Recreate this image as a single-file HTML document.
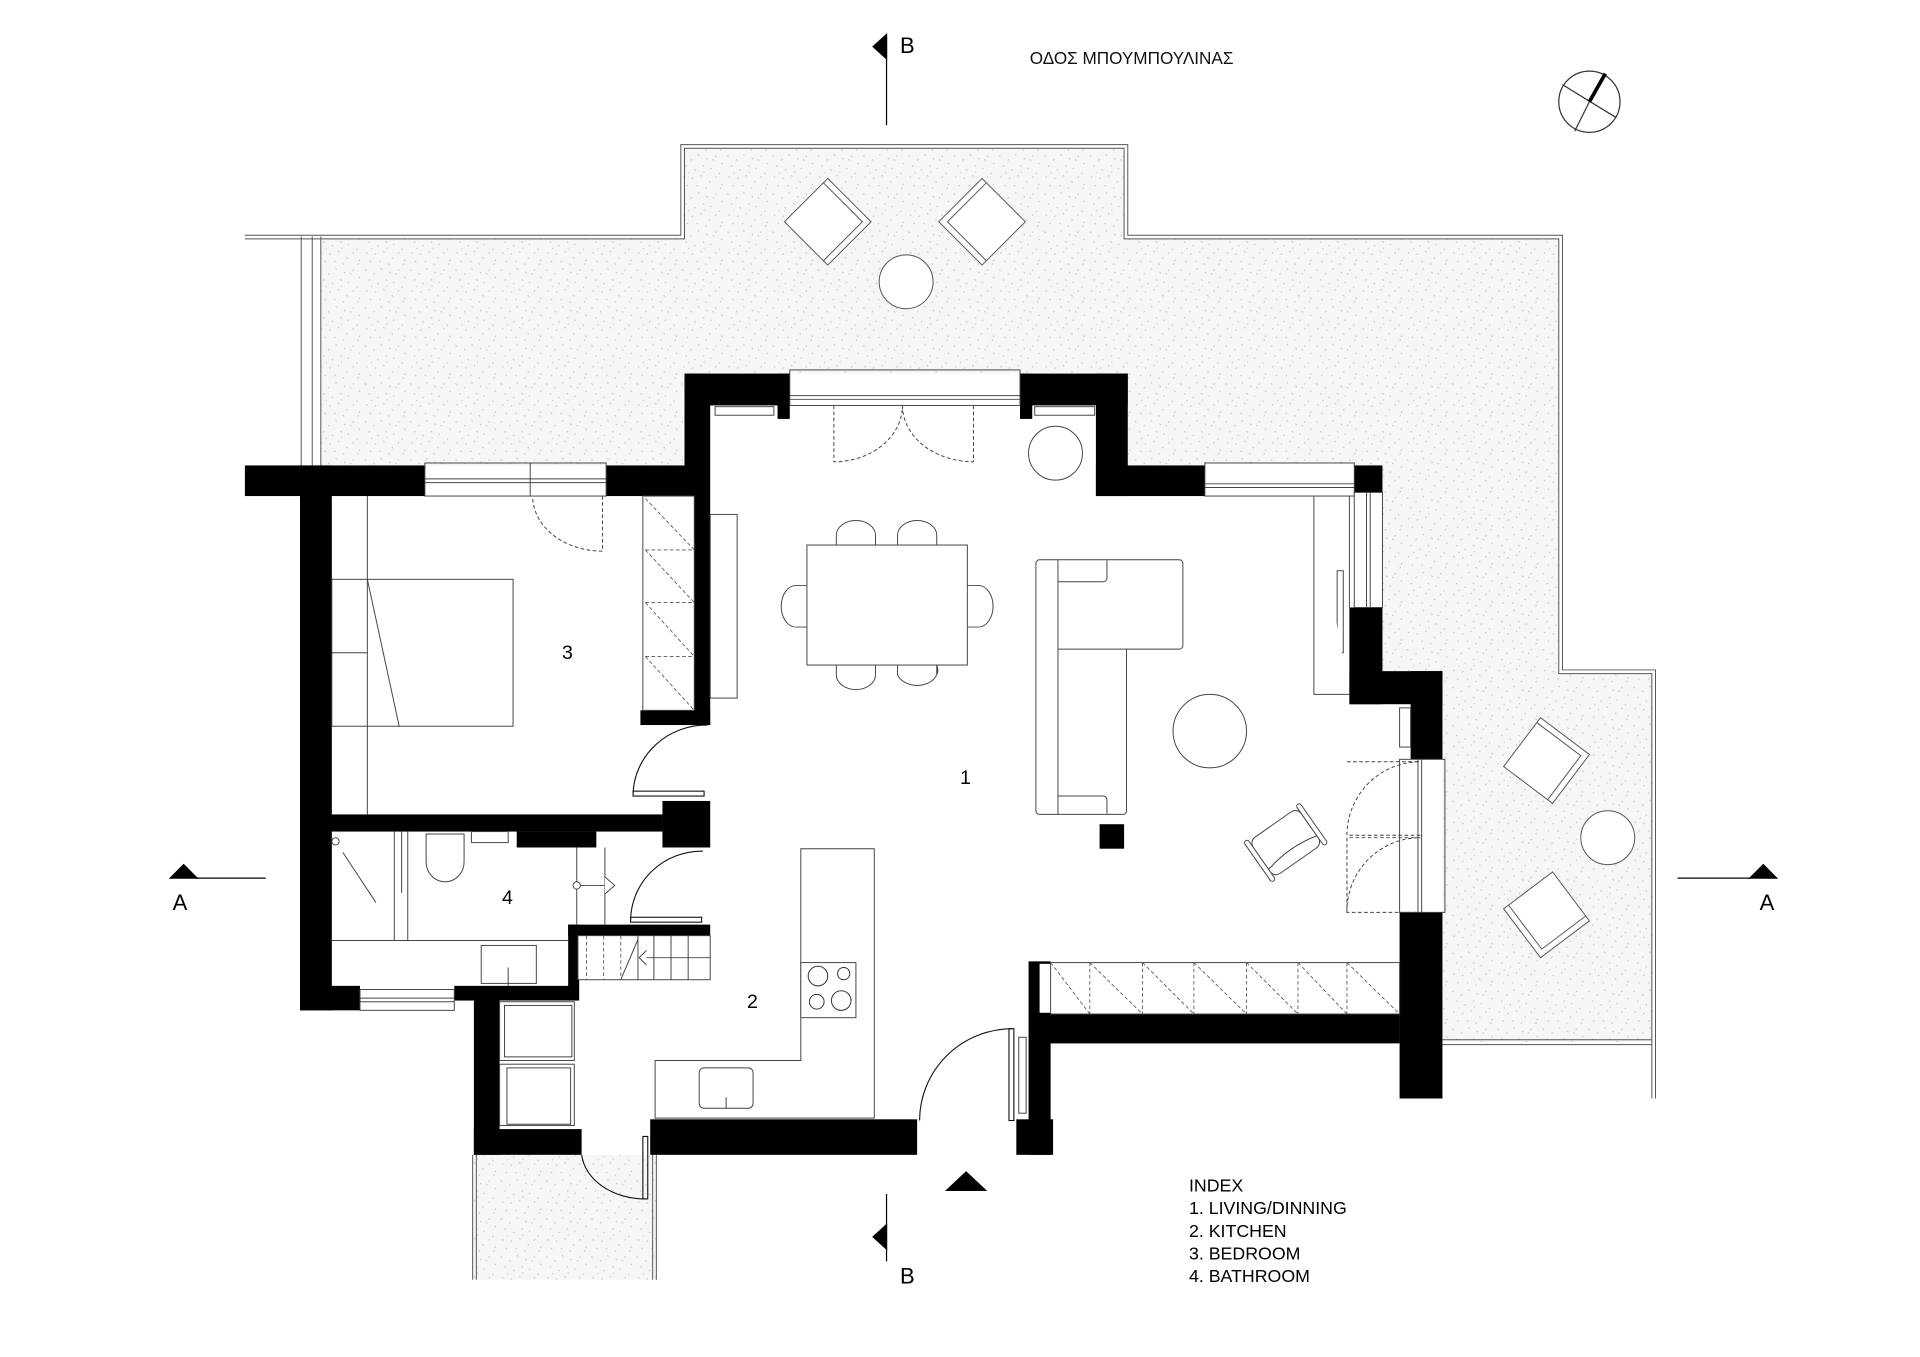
<!DOCTYPE html>
<html><head><meta charset="utf-8"><style>html,body{margin:0;padding:0;background:#fff}svg{display:block}</style></head>
<body>
<svg width="1920" height="1357" viewBox="0 0 1568 1108" xmlns="http://www.w3.org/2000/svg" font-family="Liberation Sans, Arial, sans-serif">
<defs>
<pattern id="sp" width="37" height="31" patternUnits="userSpaceOnUse">
<rect width="37" height="31" fill="#f6f6f6"/>
<g stroke="#c4c4c4" stroke-width="0.8">
<path d="M2 3l1 1M9 7l1-1M15 2l1 1M22 5l1 1M30 3l-1 1M34 9l1 1M5 12l1-1M12 14l1 1M19 11l1 1M26 13l-1 1M32 17l1 1M3 20l1 1M10 22l1-1M17 19l1 1M24 24l1 1M29 21l1-1M6 27l1 1M14 28l1-1M21 29l1 1M35 26l-1 1M27 6l1 1M7 17l1 0M20 16l0 1M33 30l1-1"/>
</g>
</pattern>
</defs>
<rect width="1568" height="1108" fill="#fff"/>

<!-- terrace fill -->
<polygon points="262,195 558,195 558,121 918,121 918,195 1273,195 1273,550 1350,550 1350,851 1178,851 1178,548 1128,548 1128,380 262,380" fill="url(#sp)"/>
<rect x="386" y="943" width="150" height="102" fill="url(#sp)"/>
<!-- building interior white -->
<polygon points="200,380 558,380 558,305 918,305 918,380 1128,380 1128,548 1178,548 1178,900 200,900" fill="#fff"/>
<rect x="1129" y="380" width="49" height="168" fill="url(#sp)"/>

<!-- terrace outlines -->
<g fill="none" stroke="#555" stroke-width="0.8">
<polyline points="200,192 556,192 556,118 921,118 921,192 1276,192 1276,547 1352,547 1352,897"/>
<polyline points="200,195 559,195 559,121 918,121 918,195 1273,195 1273,550 1349,550 1349,897"/>
<line x1="1178" y1="849" x2="1349" y2="849"/><line x1="1178" y1="853" x2="1349" y2="853"/>
<line x1="246" y1="193" x2="246" y2="380"/><line x1="255" y1="193" x2="255" y2="380"/><line x1="262" y1="193" x2="262" y2="380"/>
<line x1="386" y1="943" x2="386" y2="1045"/><line x1="389" y1="943" x2="389" y2="1045"/>
<line x1="533" y1="943" x2="533" y2="1045"/><line x1="536" y1="943" x2="536" y2="1045"/>
</g>

<!-- walls -->
<g fill="#000">
<rect x="200" y="380" width="147" height="25"/>
<rect x="245" y="380" width="26" height="445"/>
<rect x="495" y="380" width="64" height="25"/>
<rect x="559" y="305" width="21" height="287"/>
<rect x="559" y="305" width="86" height="26"/>
<rect x="635" y="305" width="10" height="37"/>
<rect x="523" y="580" width="57" height="12"/>
<rect x="833" y="305" width="88" height="26"/>
<rect x="833" y="305" width="10" height="37"/>
<rect x="895" y="305" width="26" height="100"/>
<rect x="895" y="380" width="89" height="25"/>
<rect x="1106" y="380" width="23" height="22"/>
<rect x="1102" y="496" width="27" height="79"/>
<rect x="1102" y="548" width="76" height="27"/>
<rect x="1152" y="548" width="26" height="72"/>
<rect x="1143" y="745" width="35" height="152"/>
<rect x="245" y="665" width="296" height="14"/>
<rect x="541" y="654" width="39" height="38"/>
<rect x="422" y="679" width="65" height="13"/>
<rect x="245" y="805" width="49" height="20"/>
<rect x="371" y="805" width="101" height="12"/>
<rect x="464" y="755" width="116" height="9"/>
<rect x="464" y="755" width="9" height="62"/>
<rect x="387" y="806" width="21" height="137"/>
<rect x="387" y="922" width="88" height="21"/>
<rect x="531" y="914" width="218" height="29"/>
<rect x="840" y="785" width="18" height="158"/>
<rect x="830" y="914" width="30" height="29"/>
<rect x="850" y="828" width="293" height="24"/>
<rect x="898" y="673" width="20" height="20"/>
</g>
<g fill="#fff"><rect x="849" y="787" width="10" height="40"/></g>

<!-- windows -->
<g fill="none" stroke="#444" stroke-width="0.8">
<rect x="347" y="378" width="148" height="27"/><line x1="347" y1="391" x2="495" y2="391"/><line x1="347" y1="394" x2="495" y2="394"/><line x1="433" y1="378" x2="433" y2="405"/>
<rect x="645" y="302" width="188" height="29"/><line x1="645" y1="323" x2="833" y2="323"/><line x1="645" y1="326" x2="833" y2="326"/>
<rect x="984" y="378" width="122" height="27" fill="#fff"/><line x1="984" y1="395" x2="1106" y2="395"/><line x1="984" y1="398" x2="1106" y2="398"/>
<rect x="1106" y="402" width="23" height="94" fill="#fff"/><line x1="1116" y1="402" x2="1116" y2="496"/><line x1="1119" y1="402" x2="1119" y2="496"/>
<rect x="1143" y="620" width="37" height="125"/><line x1="1158" y1="620" x2="1158" y2="745"/><line x1="1161" y1="620" x2="1161" y2="745"/>
<rect x="294" y="808" width="77" height="17"/><line x1="294" y1="815" x2="371" y2="815"/><line x1="294" y1="818" x2="371" y2="818"/>
<rect x="584" y="332" width="48" height="7"/><rect x="845" y="332" width="49" height="7"/>
<rect x="1143" y="578" width="9" height="32"/>
<rect x="832" y="847" width="6" height="62"/>
<rect x="1092" y="466" width="5" height="67"/>
</g>

<!-- doors dashed -->
<g fill="none" stroke="#444" stroke-width="0.8" stroke-dasharray="3,2">
<path d="M681 331 V377 A56 46 0 0 0 737 331"/>
<path d="M795 331 V377 A58 46 0 0 1 737 331"/>
<path d="M492 405 V450 A57 45 0 0 1 435 405"/>
<path d="M1160 682 H1100 A60 60 0 0 1 1160 622"/>
<path d="M1160 684 H1100 V745 H1160 M1100 745 A60 60 0 0 1 1160 684"/>
<line x1="1100" y1="622" x2="1160" y2="622"/>
<rect x="658" y="775" width="37" height="68"/>
<line x1="535" y1="889" x2="714" y2="889"/>
<ellipse cx="724" cy="493" rx="19" ry="18"/>
<circle cx="442" cy="892" r="12"/>
</g>
<g fill="none" stroke="#111" stroke-width="0.9">
<path d="M517 648 A60 58 0 0 1 578 592"/>
<rect x="517" y="646" width="58" height="4"/>
<path d="M515 751 A58 57 0 0 1 574 695"/>
<rect x="515" y="749" width="58" height="4"/>
<path d="M751 915 A76 75 0 0 1 827 840"/>
<rect x="824" y="840" width="4" height="75"/>
<path d="M475 943 A52 40 0 0 0 527 979"/>
<rect x="525" y="928" width="4" height="51"/>
</g>

<g fill="#fff" stroke="#444" stroke-width="0.8">
<rect x="525" y="405" width="42" height="175"/>
<rect x="580" y="420" width="22" height="150"/>
<rect x="271" y="473" width="148" height="120"/>
<line x1="300" y1="405" x2="300" y2="665"/>
<line x1="271" y1="533" x2="300" y2="533"/>
<line x1="300" y1="473" x2="326" y2="593"/>
<circle cx="274" cy="687" r="3"/>
<line x1="280" y1="696" x2="307" y2="737"/>
<line x1="322" y1="679" x2="322" y2="768"/><line x1="328" y1="679" x2="328" y2="729"/><line x1="333" y1="679" x2="333" y2="768"/>
<path d="M348 681 H379 V704 A15.5 16 0 0 1 348 704 Z"/>
<rect x="385" y="679" width="30" height="9"/>
<line x1="271" y1="768" x2="464" y2="768"/>
<rect x="393" y="772" width="45" height="31"/>
<line x1="415" y1="790" x2="415" y2="805"/>
<line x1="471" y1="692" x2="471" y2="755"/><line x1="494" y1="692" x2="494" y2="755"/>
<circle cx="471" cy="723" r="3"/><line x1="474" y1="723" x2="494" y2="723"/>
<path d="M494 716 L502 723 L494 730"/>
<rect x="472" y="764" width="108" height="36"/>
<line x1="521" y1="764" x2="521" y2="800"/><line x1="534" y1="764" x2="534" y2="800"/><line x1="548" y1="764" x2="548" y2="800"/><line x1="562" y1="764" x2="562" y2="800"/>
<line x1="507" y1="800" x2="521" y2="767"/>
<line x1="523" y1="782" x2="580" y2="782"/><path d="M528 776 L522 782 L528 788"/>
<rect x="408" y="818" width="61" height="48"/><rect x="412" y="821" width="55" height="42"/>
<rect x="408" y="869" width="61" height="50"/><rect x="414" y="872" width="52" height="46"/>
<path d="M654 693 H714 V913 H535 V866 H654 Z"/>
<rect x="654" y="786" width="45" height="45"/>
<rect x="571" y="872" width="44" height="33" rx="4"/>
<line x1="593" y1="896" x2="593" y2="905"/>
<path d="M683 445 V437 A16 12 0 0 1 715 437 V445"/>
<path d="M733 445 V437 A16 12 0 0 1 765 437 V445"/>
<path d="M683 543 V551 A16 12 0 0 0 715 551 V543"/>
<path d="M733 543 V551 A16 12 0 0 0 765 543 V543 M765 543 V551"/>
<path d="M659 478 H650 A12 17 0 0 0 650 512 H659"/>
<path d="M790 478 H799 A12 17 0 0 1 799 512 H790"/>
<rect x="659" y="445" width="131" height="98"/>
<circle cx="862" cy="370" r="22"/>
<path d="M846 460 A3 3 0 0 1 849 457 H963 A3 3 0 0 1 966 460 V527 A3 3 0 0 1 963 530 H920 V662 A3 3 0 0 1 917 665 H849 A3 3 0 0 1 846 662 Z"/>
<line x1="864" y1="457" x2="864" y2="665"/><line x1="864" y1="530" x2="920" y2="530"/>
<path d="M864 475 H901 A3 3 0 0 0 904 472 V457"/>
<path d="M864 650 H901 A3 3 0 0 1 904 653 V665"/>
<circle cx="988" cy="597" r="30"/>
<polyline points="1073,405 1073,567 1102,567"/><line x1="1102" y1="405" x2="1102" y2="496"/>
<rect x="858" y="786" width="285" height="42"/>
</g>
<g fill="none" stroke="#555" stroke-width="0.7" stroke-dasharray="3,2">
<path d="M527 449 H567 M527 492 H567 M527 536 H567 M527 407 L567 449 M527 449 L567 492 M527 492 L567 536 M527 536 L567 580"/>
<path d="M890 786 V828 M933 786 V828 M975 786 V828 M1018 786 V828 M1060 786 V828 M1100 786 V828"/>
<path d="M858 786 L890 828 M890 786 L933 828 M933 786 L975 828 M975 786 L1018 828 M1018 786 L1060 828 M1060 786 L1100 828 M1100 786 L1143 828"/>
<path d="M479 764 V800 M493 764 V800 M507 764 V800"/>
</g>
<g fill="none" stroke="#333" stroke-width="0.8">
<circle cx="668" cy="797" r="8"/><circle cx="689" cy="795" r="5"/><circle cx="667" cy="818" r="6"/><circle cx="687" cy="817" r="8"/>
</g>
<g transform="translate(1050,688) rotate(-35)" fill="#fff" stroke="#444" stroke-width="0.8">
<rect x="-24" y="-18" width="48" height="36" rx="6"/>
<rect x="-28" y="-20" width="4" height="40" rx="2"/><rect x="24" y="-20" width="4" height="40" rx="2"/>
<path d="M-24 10 Q0 4 24 10"/>
</g>

<g fill="#fff" stroke="#555" stroke-width="0.8">
<g transform="translate(676,181) rotate(45)"><rect x="-25" y="-25" width="50" height="50"/><path d="M-25 -20 H20 V25"/></g>
<g transform="translate(802,181) rotate(-45)"><rect x="-25" y="-25" width="50" height="50"/><path d="M25 -20 H-20 V25"/></g>
<circle cx="740" cy="230" r="22"/>
<g transform="translate(1263,621) rotate(37)"><rect x="-25" y="-25" width="50" height="50"/><path d="M-25 -20 H20 V25"/></g>
<g transform="translate(1263,747) rotate(-37)"><rect x="-25" y="-25" width="50" height="50"/><path d="M-20 -25 V20 H25"/></g>
<circle cx="1313" cy="684" r="22"/>
</g>

<g fill="none" stroke="#333" stroke-width="1">
<ellipse cx="1298" cy="83" rx="25" ry="25"/>
<line x1="1276" y1="69" x2="1320" y2="96"/>
<line x1="1286" y1="107" x2="1298" y2="83"/>
<line x1="1298" y1="83" x2="1311" y2="60" stroke="#000" stroke-width="3"/>
</g>

<g stroke="#000" stroke-width="1" fill="#000">
<line x1="724" y1="30" x2="724" y2="102"/><polygon points="724,28 724,48 713,38"/>
<line x1="724" y1="975" x2="724" y2="1030"/><polygon points="724,1000 724,1020 713,1010"/>
<line x1="160" y1="717" x2="217" y2="717"/><polygon points="139,717 161,717 150,706"/>
<line x1="1370" y1="717" x2="1430" y2="717"/><polygon points="1429,717 1451,717 1440,706"/>
<polygon points="773,972 805,972 789,957"/>
</g>

<g fill="#000" font-size="18">
<text x="735" y="43">B</text>
<text x="735" y="1048">B</text>
<text x="141" y="743">A</text>
<text x="1437" y="743">A</text>
</g>
<text x="841" y="52" font-size="14" fill="#111">ΟΔΟΣ  ΜΠΟΥΜΠΟΥΛΙΝΑΣ</text>
<g font-size="16" fill="#000">
<text x="459" y="538">3</text>
<text x="784" y="640">1</text>
<text x="410" y="738">4</text>
<text x="610" y="823">2</text>
</g>
<g font-size="14.5" fill="#000">
<text x="971" y="973">INDEX</text>
<text x="971" y="991.5">1. LIVING/DINNING</text>
<text x="971" y="1010">2. KITCHEN</text>
<text x="971" y="1028.5">3. BEDROOM</text>
<text x="971" y="1047">4. BATHROOM</text>
</g>
</svg>
</body></html>
